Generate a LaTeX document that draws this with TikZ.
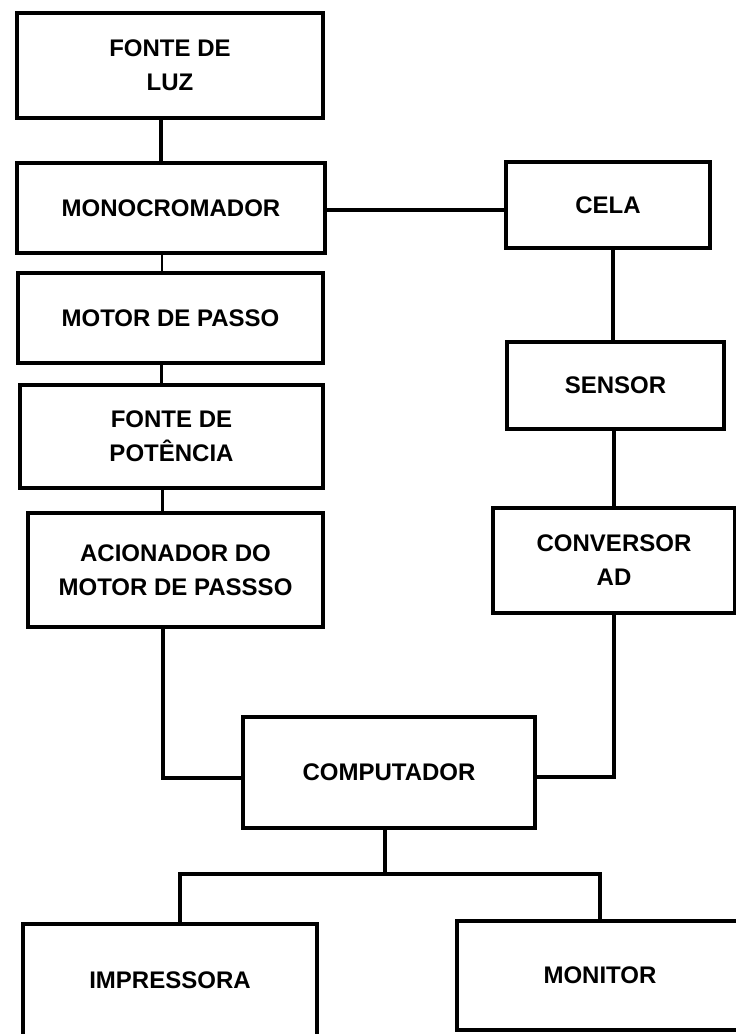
\documentclass[tikz,border=0pt]{standalone}
\usepackage{fontspec}
\setmainfont{Liberation Sans}
\begin{document}
\begin{tikzpicture}[x=1pt,y=-1pt,
  blk/.style={draw=black, line width=3.5pt, align=center, inner sep=0pt,
    font=\fontsize{24}{34}\selectfont\bfseries},
  wire/.style={draw=black, line width=3.5pt}]
\useasboundingbox (0,0) rectangle (736,1034);
\clip (0,0) rectangle (736,1034);
\node[blk, minimum width=306pt, minimum height=105pt] (fonte) at (170,65.5) {FONTE DE\\LUZ};
\node[blk, minimum width=308pt, minimum height=90pt] (mono) at (171,208) {MONOCROMADOR};
\node[blk, minimum width=305pt, minimum height=90pt] (motor) at (170.5,318) {MOTOR DE PASSO};
\node[blk, minimum width=303pt, minimum height=103pt] (fontep) at (171.5,436.5) {FONTE DE\\POTÊNCIA};
\node[blk, minimum width=295pt, minimum height=114pt] (acion) at (175.5,570) {ACIONADOR DO\\MOTOR DE PASSSO};
\node[blk, minimum width=204pt, minimum height=86pt] (cela) at (608,205) {CELA};
\node[blk, minimum width=217pt, minimum height=87pt] (sensor) at (615.5,385.5) {SENSOR};
\node[blk, minimum width=242pt, minimum height=105pt] (conv) at (614,560.5) {CONVERSOR\\AD};
\node[blk, minimum width=292pt, minimum height=111pt] (comp) at (389,772.5) {COMPUTADOR};
\node[blk, minimum width=294pt, minimum height=112pt] (impr) at (170,980) {IMPRESSORA};
\node[blk, minimum width=286pt, minimum height=109pt] (mon) at (600,975.5) {MONITOR};
\coordinate (bus) at (385,874);
% left column
\draw[wire] ([xshift=-9pt]fonte.south) -- ([xshift=-9pt]fonte.south |- mono.north);
\draw[wire, line width=2.5pt] ([xshift=-9pt]mono.south) -- ([xshift=-9pt]mono.south |- motor.north);
\draw[wire, line width=3pt] ([xshift=-9pt]motor.south) -- ([xshift=-9pt]motor.south |- fontep.north);
\draw[wire] ([xshift=-9pt]fontep.south) -- ([xshift=-9pt]fontep.south |- acion.north);
% mono to cela
\draw[wire] ([yshift=-2pt]mono.east) -- ([yshift=-2pt]mono.east -| cela.west);
% right column
\draw[wire] ([xshift=5pt]cela.south) -- ([xshift=5pt]cela.south |- sensor.north);
\draw[wire] ([xshift=-1.5pt]sensor.south) -- ([xshift=-1.5pt]sensor.south |- conv.north);
% to computer
\draw[wire] ([xshift=-12.5pt]acion.south) |- ([yshift=-5.5pt]comp.west);
\draw[wire] ([yshift=-4.5pt]comp.east) -| (conv.south);
% computer to outputs
\draw[wire] ([xshift=-4pt]comp.south) -- ([xshift=-4pt]comp.south |- bus);
\draw[wire] ([xshift=10pt]impr.north) |- (bus) -| (mon.north);
\end{tikzpicture}
\end{document}
